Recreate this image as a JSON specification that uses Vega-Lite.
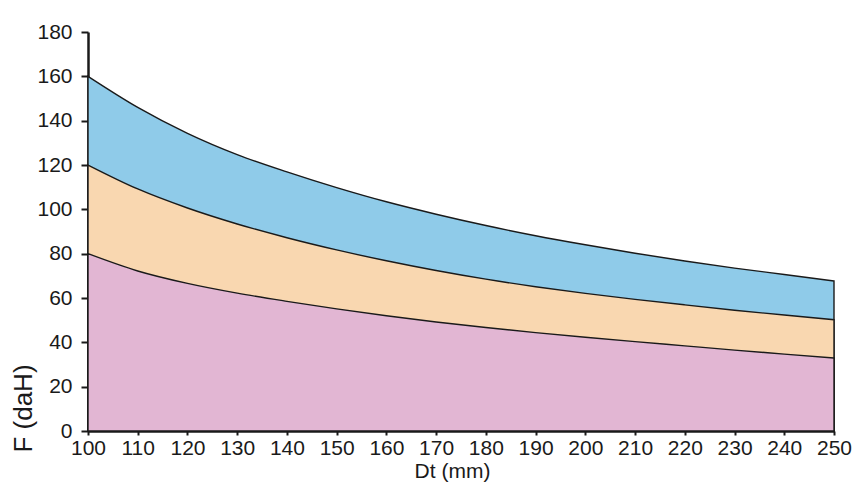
{
  "$schema": "https://vega.github.io/schema/vega-lite/v6.json",
  "width": 746,
  "height": 399,
  "autosize": {"type": "none"},
  "padding": {"left": 88, "top": 32, "right": 22, "bottom": 52},
  "background": "white",
  "data": {
    "values": [
      {"Dt": 100, "high": 160, "mid": 120, "low": 80},
      {"Dt": 110, "high": 146, "mid": 109.2, "low": 72.2},
      {"Dt": 120, "high": 134.3, "mid": 100.6, "low": 66.6},
      {"Dt": 130, "high": 124.7, "mid": 93.4, "low": 62.2},
      {"Dt": 140, "high": 116.9, "mid": 87.2, "low": 58.5},
      {"Dt": 150, "high": 109.8, "mid": 81.7, "low": 55.1},
      {"Dt": 160, "high": 103.4, "mid": 76.8, "low": 52.0},
      {"Dt": 170, "high": 97.8, "mid": 72.4, "low": 49.2},
      {"Dt": 180, "high": 92.7, "mid": 68.5, "low": 46.7},
      {"Dt": 190, "high": 88.1, "mid": 65.1, "low": 44.4},
      {"Dt": 200, "high": 84.0, "mid": 62.1, "low": 42.3},
      {"Dt": 210, "high": 80.2, "mid": 59.4, "low": 40.3},
      {"Dt": 220, "high": 76.7, "mid": 56.9, "low": 38.4},
      {"Dt": 230, "high": 73.5, "mid": 54.5, "low": 36.5},
      {"Dt": 240, "high": 70.6, "mid": 52.3, "low": 34.7},
      {"Dt": 250, "high": 67.7, "mid": 50.2, "low": 32.9}
    ]
  },
  "encoding": {
    "x": {
      "field": "Dt",
      "type": "quantitative",
      "title": "Dt (mm)",
      "scale": {"domain": [100, 250], "nice": false, "zero": false},
      "axis": {"values": [100, 110, 120, 130, 140, 150, 160, 170, 180, 190, 200, 210, 220, 230, 240, 250], "titleX": 364, "titleY": 46, "titleFontSize": 21, "titleBaseline": "alphabetic", "titleAnchor": null, "titleAlign": "center"}
    }
  },
  "layer": [
    {
      "mark": {"type": "area", "interpolate": "monotone", "color": "#8fcbe9", "stroke": "#1a1a1a", "strokeWidth": 1.4, "fillOpacity": 1},
      "encoding": {"y": {"field": "high", "type": "quantitative", "title": "F (daH)", "scale": {"domain": [0, 180], "nice": false}}}
    },
    {
      "mark": {"type": "area", "interpolate": "monotone", "color": "#f9d7b0", "stroke": "#1a1a1a", "strokeWidth": 1.4, "fillOpacity": 1},
      "encoding": {"y": {"field": "mid", "type": "quantitative", "title": "F (daH)"}}
    },
    {
      "mark": {"type": "area", "interpolate": "monotone", "color": "#e2b6d3", "stroke": "#1a1a1a", "strokeWidth": 1.4, "fillOpacity": 1},
      "encoding": {"y": {"field": "low", "type": "quantitative", "title": "F (daH)"}}
    }
  ],
  "config": {
    "view": {"stroke": null},
    "font": "Liberation Sans",
    "axis": {
      "grid": false,
      "domainColor": "#1a1a1a",
      "domainWidth": 2.5,
      "tickColor": "#1a1a1a",
      "tickWidth": 2,
      "labelFont": "Liberation Sans",
      "labelFontSize": 21,
      "labelColor": "#1a1a1a",
      "titleFont": "Liberation Sans",
      "titleFontWeight": "normal",
      "titleColor": "#1a1a1a",
      "labelFlush": false,
      "labelOverlap": false
    },
    "axisX": {"tickSize": 4, "labelPadding": 2},
    "axisY": {
      "tickSize": 7, "labelPadding": 9,
      "values": [0, 20, 40, 60, 80, 100, 120, 140, 160, 180],
      "titleFontSize": 26, "titleX": -65, "titleY": 376, "titleAngle": -90,
      "titleAlign": "center", "titleBaseline": "middle", "titleAnchor": null
    }
  }
}
